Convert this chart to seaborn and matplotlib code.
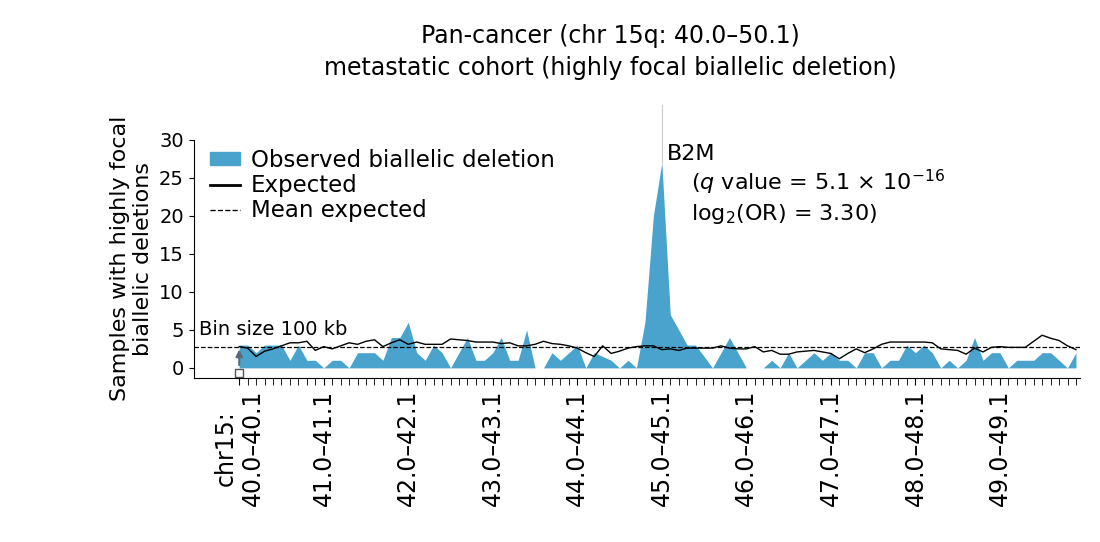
import numpy as np
import pandas as pd
import matplotlib
matplotlib.use("Agg")
import matplotlib.pyplot as plt
import seaborn as sns
from matplotlib.lines import Line2D
from matplotlib.patches import Patch

# Bins de 100 kb, chr15 40.0-50.0 Mb
bin_start = np.round(np.arange(40.0, 50.0, 0.1), 1)

observed = [3, 3, 2, 3, 3, 3, 1, 3, 1, 1,
            0, 1, 1, 0, 2, 2, 2, 1, 4, 4,
            6, 2, 1, 3, 2, 0, 2, 4, 1, 1,
            2, 4, 1, 1, 5, 0, 0, 2, 1, 2,
            3, 0, 2, 1.5, 1, 0, 1, 0, 6, 20,
            27, 7, 5, 3, 3, 1.5, 0, 2, 4, 2,
            0, 0, 0, 1, 0, 2, 0, 1, 2, 1,
            2, 1, 1, 0, 2, 2, 0, 1, 1, 3,
            2, 3, 2, 0, 1, 0, 1, 4, 1, 2,
            2, 0, 1, 1, 1, 2, 2, 1, 0, 2]

expected = [2.8, 2.6, 1.5, 2.2, 2.5, 2.9, 3.3, 3.3, 3.5, 2.3,
            2.8, 2.5, 2.9, 3.3, 3.1, 3.5, 3.7, 2.8, 3.3, 3.7,
            3.1, 3.4, 3.1, 3.1, 3.1, 3.8, 3.7, 3.6, 3.4, 3.4,
            3.4, 3.2, 3.3, 2.9, 2.9, 3.1, 3.5, 3.2, 3.1, 2.9,
            2.6, 2.0, 1.5, 2.9, 1.9, 2.2, 2.6, 2.8, 2.9, 2.9,
            2.4, 2.5, 2.3, 2.6, 2.6, 2.6, 2.6, 2.9, 2.6, 2.5,
            2.5, 2.8, 2.1, 2.3, 1.8, 1.8, 2.1, 2.2, 2.3, 2.1,
            1.9, 1.2, 1.9, 2.5, 2.0, 2.5, 3.1, 3.4, 3.4, 3.4,
            3.4, 3.4, 3.3, 2.5, 2.4, 2.3, 1.8, 2.6, 2.1, 2.7,
            2.8, 2.7, 2.7, 2.7, 3.5, 4.3, 3.9, 3.6, 2.9, 2.4]

mean_expected = 2.8
peak_gene = "B2M"

df = pd.DataFrame({"pos": np.arange(len(bin_start)),
                   "Observed": observed, "Expected": expected})

blue = "#4aa3cc"
plt.rcParams["font.family"] = "DejaVu Sans"
fig = plt.figure(figsize=(11, 5.42), dpi=100)
ax = fig.add_axes([0.176, 0.303, 0.806, 0.439])

ax.fill_between(df["pos"], 0, df["Observed"], color=blue, lw=0)
sns.lineplot(data=df, x="pos", y="Expected", ax=ax, color="black", lw=1)
ax.axhline(mean_expected, color="black", ls="--", lw=0.9)

# marcador do primeiro bin
ax.annotate("", xy=(0, mean_expected), xytext=(0, 0),
            arrowprops=dict(arrowstyle="-|>", color="#5a6a7a", lw=1.5))
ax.plot([0], [-0.7], marker="s", mfc="white", mec="#555555", ms=6, clip_on=False)
ax.text(-4.8, 3.8, "Bin size 100 kb", fontsize=14, va="bottom")

# linha do gene com pico
peak = int(np.argmax(observed))
ax.plot([peak, peak], [observed[peak], 34.6], color="#cccccc", lw=0.8, clip_on=False)
ax.text(peak + 0.6, 28.2, peak_gene, fontsize=16, va="center")
ax.text(peak + 3.5, 24.4, "($q$ value = 5.1 × 10$^{-16}$", fontsize=16, va="center")
ax.text(peak + 3.5, 20.2, "log$_2$(OR) = 3.30)", fontsize=16, va="center")

ax.set_xlim(-5.4, 99.5)
ax.set_ylim(-1.3, 30)
ax.set_yticks([0, 5, 10, 15, 20, 25, 30])
ax.set_xticks(np.arange(0, 100, 10))
labels = [f"{b:.1f}\u2013{b + 0.1:.1f}" for b in bin_start[::10]]
labels[0] = "chr15:\n" + labels[0]
ax.set_xticklabels(labels, rotation=90, fontsize=17)
ax.set_xticks(np.arange(0, 100), minor=True)
ax.tick_params(axis="x", which="both", length=5)
ax.tick_params(axis="y", labelsize=14)
ax.set_xlabel("")
ax.set_ylabel("Samples with highly focal\nbiallelic deletions", fontsize=16)
sns.despine(ax=ax)

handles = [Patch(color=blue),
           Line2D([], [], color="black", lw=2),
           Line2D([], [], color="black", lw=1, ls="--")]
ax.legend(handles, ["Observed biallelic deletion", "Expected", "Mean expected"],
          loc="upper left", bbox_to_anchor=(-0.005, 1.05), frameon=False,
          fontsize=16.5, handlelength=1.3, handleheight=0.5, labelspacing=0.1,
          handletextpad=0.5)

fig.suptitle("Pan-cancer (chr 15q: 40.0\u201350.1)\nmetastatic cohort (highly focal biallelic deletion)",
             fontsize=17, y=0.955, x=0.555, linespacing=1.4)
fig.savefig("out.png", dpi=100)
